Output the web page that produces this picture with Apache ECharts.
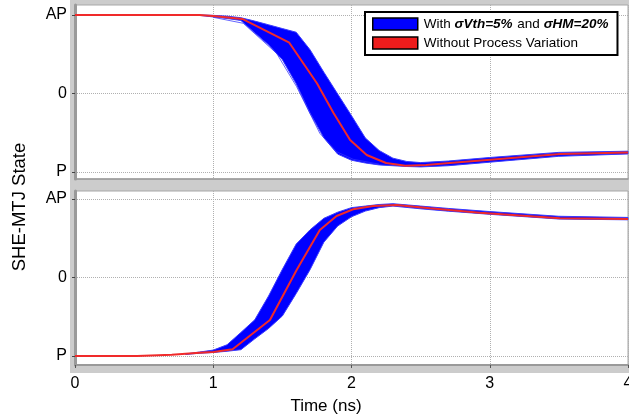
<!DOCTYPE html>
<html>
<head>
<meta charset="utf-8">
<script src="https://cdn.jsdelivr.net/npm/echarts@6/dist/echarts.min.js"></script>
<style>
  html, body { margin: 0; padding: 0; background: #fff; }
  #chart { width: 629px; height: 419px; }
</style>
</head>
<body>
<div id="chart"></div>
<script>
// ---- data (time in ns, state: AP = 1, 0, P = -1) ----
const stateTicks = [-1, 0, 1];
const stateNames = { '-1': 'P', '0': '0', '1': 'AP' };
const timeTicks = [0, 1, 2, 3, 4];

// upper panel: AP -> P switching
const bandTopT = [0.8, 0.9, 1.0, 1.1, 1.2, 1.3, 1.4, 1.5, 1.6, 1.7, 1.8, 1.9, 2.0, 2.1, 2.2, 2.3, 2.4, 2.5, 2.7, 3.0, 3.5, 4.0];
const bandTopHigh = [1, 1, 0.995, 0.985, 0.965, 0.922, 0.875, 0.827, 0.78, 0.558, 0.271, -0.006, -0.282, -0.566, -0.726, -0.824, -0.866, -0.88, -0.86, -0.815, -0.75, -0.735];
const bandTopLow = [1, 0.995, 0.975, 0.955, 0.93, 0.773, 0.62, 0.431, 0.124, -0.249, -0.565, -0.772, -0.85, -0.885, -0.91, -0.92, -0.93, -0.935, -0.92, -0.875, -0.8, -0.77];
const nominalTopT = [0, 0.9, 1.0, 1.21, 1.55, 1.75, 1.87, 1.99, 2.11, 2.25, 2.39, 2.54, 2.71, 3.07, 3.51, 4.0];
const nominalTopV = [1, 1, 0.987, 0.949, 0.647, 0.13, -0.248, -0.592, -0.783, -0.885, -0.92, -0.91, -0.885, -0.834, -0.771, -0.75];
const strayTopT = [1.0, 1.217, 1.458, 1.603, 1.771, 1.892, 2.012, 2.2];
const strayTopV = [0.97, 0.894, 0.512, 0.087, -0.507, -0.741, -0.838, -0.9];

// lower panel: P -> AP switching
const bandBotT = [0.8, 0.9, 1.0, 1.1, 1.2, 1.3, 1.4, 1.5, 1.6, 1.7, 1.8, 1.9, 2.0, 2.1, 2.2, 2.3, 2.5, 2.7, 3.0, 3.5, 4.0];
const bandBotHigh = [-0.975, -0.95, -0.925, -0.857, -0.70, -0.54, -0.236, 0.104, 0.426, 0.607, 0.754, 0.832, 0.89, 0.91, 0.93, 0.94, 0.91, 0.88, 0.84, 0.78, 0.765];
const bandBotLow = [-0.98, -0.965, -0.955, -0.94, -0.92, -0.782, -0.65, -0.49, -0.204, 0.099, 0.45, 0.656, 0.774, 0.846, 0.89, 0.91, 0.875, 0.845, 0.805, 0.745, 0.735];
const nominalBotT = [0, 0.45, 0.7, 0.9, 1.0, 1.14, 1.41, 1.603, 1.771, 1.892, 2.012, 2.157, 2.326, 2.567, 2.929, 3.507, 4.0];
const nominalBotV = [-1, -1, -0.985, -0.96, -0.95, -0.915, -0.541, 0.096, 0.605, 0.783, 0.869, 0.911, 0.924, 0.882, 0.825, 0.754, 0.745];

const BAND = 'With σVth=5% and σHM=20%';
const NOMINAL = 'Without Process Variation';
const FONT = '"Liberation Sans", Arial, sans-serif';

const pairs = (xs, ys) => xs.map((x, i) => [x, ys[i]]);

// the spread of Monte-Carlo runs: one filled polygon between the high and low envelopes
function bandSeries(idx, t, hi, lo) {
  return {
    name: BAND, type: 'custom', xAxisIndex: idx, yAxisIndex: idx, z: 2,
    itemStyle: { color: '#0000ff' },
    encode: { x: 0, y: [1, 2] },
    data: t.map((x, i) => [x, hi[i], lo[i]]),
    renderItem: function (params, api) {
      if (params.dataIndex !== 0) return null;
      const upper = t.map((x, i) => api.coord([x, hi[i]]));
      const lower = t.map((x, i) => api.coord([x, lo[i]])).reverse();
      return {
        type: 'polygon',
        shape: { points: upper.concat(lower) },
        style: { fill: '#0000ff', stroke: '#3a3aff', lineWidth: 1 }
      };
    }
  };
}

function nominalSeries(idx, t, v) {
  return {
    name: NOMINAL, type: 'line', xAxisIndex: idx, yAxisIndex: idx,
    symbol: 'none', z: 4,
    itemStyle: { color: '#ee1c1c' },
    lineStyle: { color: '#f02a2a', width: 2 },
    data: pairs(t, v)
  };
}

const dotted = { show: true, lineStyle: { color: '#b0b0b0', type: 'dotted', width: 1 } };

function xAxis(idx, labels) {
  return {
    type: 'value', gridIndex: idx, min: 0, max: 4, interval: 1,
    axisLine: { show: true, onZero: false, lineStyle: { color: '#9a9a9a', width: labels ? 2 : 1.5 } },
    axisTick: { show: labels, length: 3, lineStyle: { color: '#555' } },
    axisLabel: { show: labels, color: '#000', fontSize: 16, fontFamily: FONT, margin: 11, alignMaxLabel: 'center', alignMinLabel: 'center' },
    splitLine: dotted
  };
}

function yAxis(idx, min, max) {
  return {
    type: 'value', gridIndex: idx, min: min, max: max,
    axisLine: { show: true, onZero: false, lineStyle: { color: '#9a9a9a', width: 3 } },
    axisTick: { show: true, customValues: stateTicks, length: 3, lineStyle: { color: '#444' } },
    axisLabel: {
      customValues: stateTicks, color: '#000', fontSize: 16, fontFamily: FONT, margin: 8,
      formatter: v => stateNames[String(Math.round(v))]
    },
    splitLine: dotted
  };
}

const chart = echarts.init(document.getElementById('chart'));
chart.setOption({
  animation: false,
  backgroundColor: '#fff',
  grid: [
    { left: 75, top: 5, width: 553, height: 174, outerBoundsMode: 'none', containLabel: false, show: true, backgroundColor: '#fff', borderColor: '#a8a8a8', borderWidth: 1 },
    { left: 75, top: 191, width: 553, height: 174, outerBoundsMode: 'none', containLabel: false, show: true, backgroundColor: '#fff', borderColor: '#a8a8a8', borderWidth: 1 }
  ],
  xAxis: [xAxis(0, false), xAxis(1, true)],
  yAxis: [yAxis(0, -1.089, 1.127), yAxis(1, -1.115, 1.102)],
  legend: {
    data: [BAND, NOMINAL],
    orient: 'vertical', left: 365, top: 12,
    padding: [5, 9, 5, 7], itemGap: 5,
    itemWidth: 45, itemHeight: 12, icon: 'rect',
    backgroundColor: '#fff', borderColor: '#000', borderWidth: 2, borderRadius: 0,
    itemStyle: { borderColor: '#000', borderWidth: 1.5 },
    selectedMode: false,
    formatter: name => name === BAND
      ? '{n|With }{b|σVth=5%}{n| and }{b|σHM=20%}'
      : '{n|' + name + '}',
    textStyle: {
      color: '#000', fontFamily: FONT, fontSize: 13.5,
      rich: {
        n: { fontSize: 13.5, fontFamily: FONT, color: '#000', padding: [0, 0, 0, 1] },
        b: { fontSize: 13.5, fontFamily: FONT, color: '#000', fontWeight: 'bold', fontStyle: 'italic' }
      }
    }
  },
  graphic: [
    { type: 'rect', z: -10, silent: true, shape: { x: 70, y: 0, width: 559, height: 373 }, style: { fill: '#cccccc' } },
    {
      type: 'text', x: 326, y: 406, silent: true,
      style: { text: 'Time (ns)', fill: '#000', font: '17px ' + FONT, align: 'center', verticalAlign: 'middle' }
    },
    {
      type: 'text', x: 20, y: 207, rotation: Math.PI / 2, silent: true,
      style: { text: 'SHE-MTJ State', fill: '#000', font: '18.5px ' + FONT, align: 'center', verticalAlign: 'middle' }
    }
  ],
  series: [
    bandSeries(0, bandTopT, bandTopHigh, bandTopLow),
    {
      name: 'stray0', type: 'line', xAxisIndex: 0, yAxisIndex: 0, symbol: 'none', z: 3,
      lineStyle: { color: 'rgba(50,50,255,0.75)', width: 1 },
      data: pairs(strayTopT, strayTopV)
    },
    nominalSeries(0, nominalTopT, nominalTopV),
    bandSeries(1, bandBotT, bandBotHigh, bandBotLow),
    nominalSeries(1, nominalBotT, nominalBotV)
  ]
});
</script>
</body>
</html>
